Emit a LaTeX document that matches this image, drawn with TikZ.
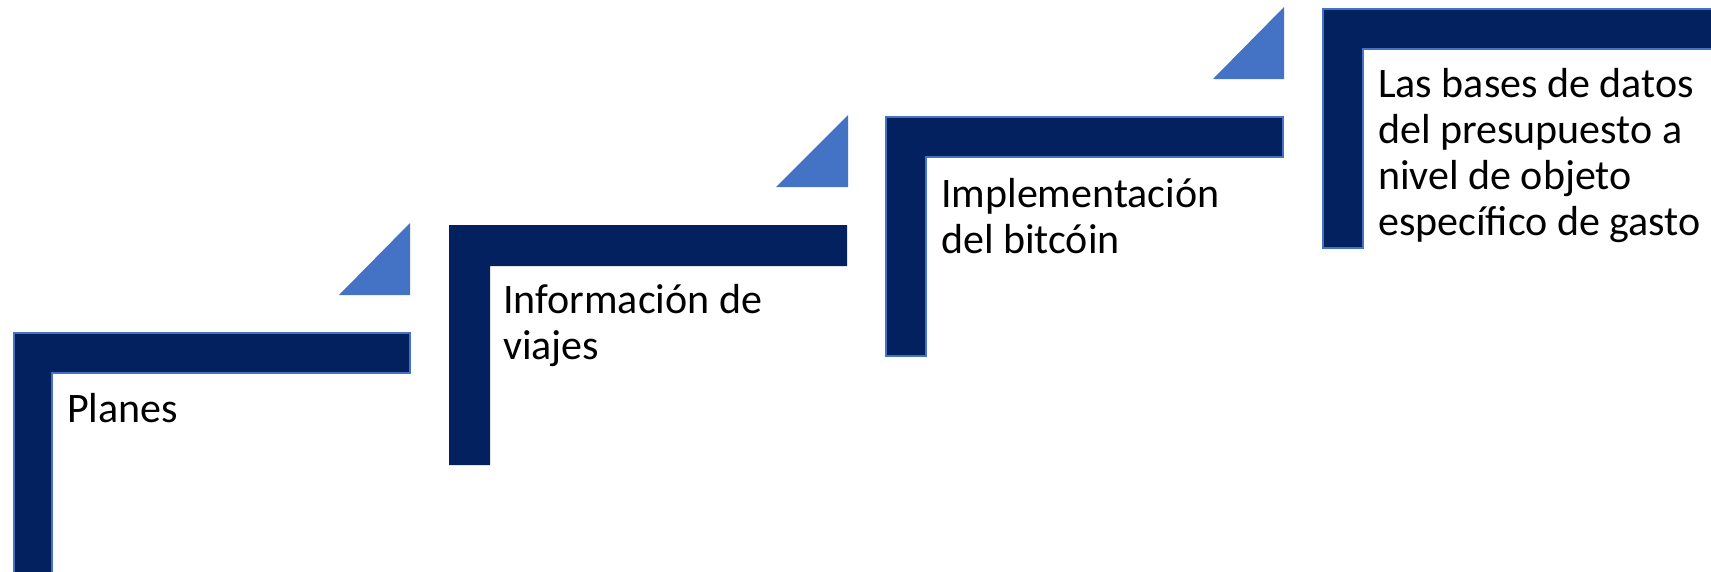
\documentclass[tikz,border=0pt]{standalone}
\usepackage{fontspec}
\setmainfont{Carlito}
\definecolor{navy}{HTML}{02215E}
\definecolor{accent}{HTML}{4472C4}
\tikzset{
  stepshape/.style={fill=navy, draw=accent, line width=1.6pt},
  stepshapeplain/.style={fill=navy, draw=none},
  tri/.style={fill=accent, draw=none},
  steptext/.style={anchor=base west, inner sep=0pt, align=left, font=\fontsize{42}{46}\selectfont, text=black}
}
\begin{document}
\begin{tikzpicture}[x=1pt,y=-1pt]
\clip (0,0) rectangle (1711,571);
\fill[white] (0,0) rectangle (1711,571);
% step 1
\draw[stepshape] (14,333) -- (410,333) -- (410,373) -- (52,373) -- (52,580) -- (14,580) -- cycle;
\fill[tri] (339,295) -- (410,295) -- (410,223) -- cycle;
\node[steptext] (t1) at (67,422) {Planes};
% step 2
\draw[stepshapeplain] (449,225) -- (847,225) -- (847,266) -- (490,266) -- (490,465) -- (449,465) -- cycle;
\fill[tri] (776,187) -- (848,187) -- (848,115) -- cycle;
\node[steptext] (t2) at (503,359) {Información de\\viajes};
% step 3
\draw[stepshape] (886,117) -- (1283,117) -- (1283,157) -- (926,157) -- (926,356) -- (886,356) -- cycle;
\fill[tri] (1213,79) -- (1284,79) -- (1284,7) -- cycle;
\node[steptext] (t3) at (941,253) {Implementación\\del bitcóin};
% step 4
\draw[stepshape] (1323,9) -- (1720,9) -- (1720,49) -- (1363,49) -- (1363,248) -- (1323,248) -- cycle;
\node[steptext] (t4) at (1378,235) {Las bases de datos\\del presupuesto a\\nivel de objeto\\específico de gasto};
\end{tikzpicture}
\end{document}
